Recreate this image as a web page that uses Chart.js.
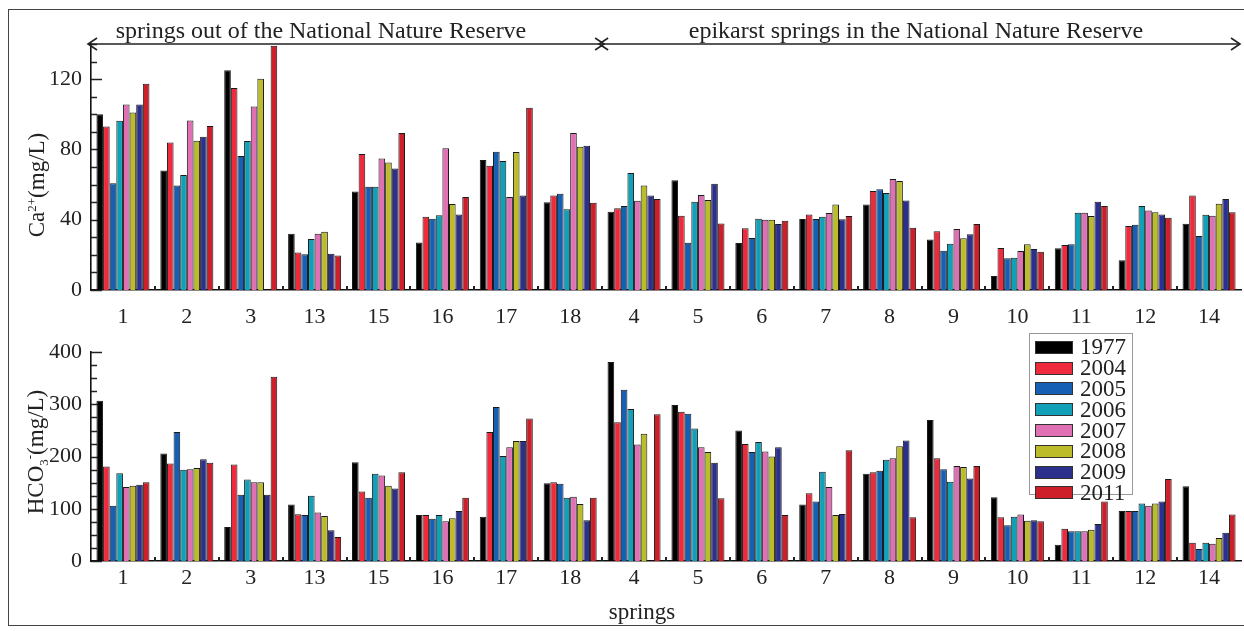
<!DOCTYPE html>
<html><head><meta charset="utf-8">
<script src="https://cdn.jsdelivr.net/npm/chart.js@4/dist/chart.umd.min.js"></script>
<style>
html,body{margin:0;padding:0;background:#fff;}
#root{position:relative;width:1244px;height:631px;overflow:hidden;font-family:"Liberation Serif","DejaVu Serif",serif;color:#222;}
.frame{position:absolute;left:8px;top:9px;width:1240px;height:615px;border:1px solid #444;border-right:none;}
.wrap{position:absolute;left:0;width:1244px;}
.hdr{position:absolute;font-size:24px;white-space:nowrap;transform:translate(-50%,-50%);}
.ytitle{position:absolute;font-size:23px;white-space:nowrap;transform:translate(-50%,-50%) rotate(-90deg);}
.xtitle{position:absolute;font-size:23px;transform:translate(-50%,-50%);}
#legend{position:absolute;left:1029px;top:333px;width:104px;height:162px;border:1px solid #999;background:#fff;box-sizing:border-box;padding-top:3px;}
.row{height:20.8px;display:flex;align-items:center;}
.sw{width:38px;height:13px;margin-left:5px;border:1px solid #333;box-sizing:border-box;}
.lt{font-size:23px;margin-left:7px;line-height:20px;}
sup,sub{font-size:13px;}
</style>
</head><body>
<div id="root">
  <div class="frame"></div>
  <div class="wrap" style="top:20px;height:310px;"><canvas id="caChart"></canvas></div>
  <div class="wrap" style="top:330px;height:301px;"><canvas id="hcoChart"></canvas></div>
  <div class="hdr" style="left:321px;top:30px;">springs out of the National Nature Reserve</div>
  <div class="hdr" style="left:916px;top:30px;">epikarst springs in the National Nature Reserve</div>
  <div class="ytitle" style="left:37px;top:185px;">Ca<sup>2+</sup>(mg/L)</div>
  <div class="ytitle" style="left:37px;top:452px;">HCO<sub>3</sub><sup>-</sup>(mg/L)</div>
  <div class="xtitle" style="left:642px;top:612px;">springs</div>
  <div id="legend"></div>
</div>
<script>
const springs = ['1','2','3','13','15','16','17','18','4','5','6','7','8','9','10','11','12','14'];
const years = ['1977','2004','2005','2006','2007','2008','2009','2011'];

const ca1977 = [100, 68, 125, 32, 56, 27, 74, 50, 44.5, 62.5, 26.7, 40.4, 48.7, 28.8, 8, 23.7, 17, 37.7];
const ca2004 = [93, 84, 115, 21.4, 77.4, 41.7, 70.7, 53.8, 46.5, 42.3, 35.1, 43, 56.3, 33.4, 23.9, 25.6, 36.4, 53.8];
const ca2005 = [60.7, 59.5, 76.2, 20.3, 58.8, 40.6, 78.7, 54.8, 47.8, 26.9, 29.6, 40.4, 57.4, 22.4, 18, 26, 37.1, 30.7];
const ca2006 = [96.3, 65.4, 84.8, 29, 58.8, 42.5, 73.4, 45.9, 66.6, 50.2, 40.6, 41.7, 55.2, 26.3, 18.4, 44, 47.8, 42.8];
const ca2007 = [105.6, 96.5, 104.5, 32, 74.9, 80.6, 52.9, 89.3, 50.8, 54, 40, 43.8, 63.1, 34.7, 22.2, 44, 45.3, 42.3];
const ca2008 = [101, 85, 120.2, 33.2, 72.6, 48.9, 78.5, 81.5, 59.5, 51.2, 40, 48.7, 62, 29.4, 26, 42.1, 44.2, 49.1];
const ca2009 = [105.6, 87.2, null, 20.7, 69.2, 43, 53.8, 82.1, 53.8, 60.5, 37.5, 40.2, 51, 31.7, 23.3, 50.2, 43, 51.8];
const ca2011 = [117.4, 93.3, 139, 19.7, 89.3, 52.9, 103.7, 49.7, 51.8, 37.9, 39.4, 42.1, 35.4, 37.5, 21.8, 47.8, 41.1, 44.2];

const hco1977 = [307, 206, 65, 108, 189, 88, 85, 149, 381, 299, 250, 108, 167, 270, 122, 31, 96, 143];
const hco2004 = [181, 187, 185, 89.5, 133, 88, 247, 151, 266, 286, 224, 130, 170, 197, 84, 62, 96, 35];
const hco2005 = [106, 247, 127, 88, 121, 81, 295, 148, 328, 282, 209, 114, 173, 176, 68.5, 57, 96, 23];
const hco2006 = [168, 175, 156, 125, 167, 88, 201, 121, 291, 254, 228, 171, 194, 152, 85, 57, 110, 35];
const hco2007 = [142, 176, 151, 93, 164, 76, 218, 123, 223, 218, 210, 142, 197, 182, 89, 57, 106, 33];
const hco2008 = [144, 178, 151, 86, 144, 82, 230, 109, 244, 209, 200, 88, 220, 180, 77, 60, 110, 44];
const hco2009 = [146, 195, 127, 59, 139, 96, 230, 78, null, 188, 218, 90, 231, 158, 78, 71, 114, 54];
const hco2011 = [151, 188, 353, 46, 170, 121, 273, 121, 281, 120, 88, 212, 84, 182, 76, 114, 157, 89];

const caTicks = [0, 40, 80, 120];
const hcoTicks = [0, 100, 200, 300, 400];

const colors = ['#000000','#ee2a3c','#1560b4','#12a0b8','#e070b4','#bcbc2a','#2c2f8c','#cc1f2a'];
const caSeries = [ca1977, ca2004, ca2005, ca2006, ca2007, ca2008, ca2009, ca2011];
const hcoSeries = [hco1977, hco2004, hco2005, hco2006, hco2007, hco2008, hco2009, hco2011];

const FONT = {family:'"Liberation Serif","DejaVu Serif",serif', size:22};

function decoPlugin(minorStep, majorTicks, maxV){
  return {
    id:'deco',
    beforeDatasetsDraw(chart){
      const ctx = chart.ctx, y = chart.scales.y, a = chart.chartArea;
      ctx.save();
      ctx.strokeStyle = '#222'; ctx.lineWidth = 1.5;
      for(let v=0; v<=maxV+1e-6; v+=minorStep){
        const py = Math.round(y.getPixelForValue(v))+0.5;
        const len = majorTicks.includes(v) ? 11 : 6;
        ctx.beginPath(); ctx.moveTo(a.left, py); ctx.lineTo(a.left+len, py); ctx.stroke();
      }
      ctx.restore();
    },
    afterDatasetsDraw(chart){
      const ctx = chart.ctx, x = chart.scales.x, a = chart.chartArea;
      ctx.save(); ctx.fillStyle = '#222';
      for(let i=1;i<springs.length;i++){
        const px = x.getPixelForValue(i-0.5);
        ctx.fillRect(Math.round(px)-1, a.bottom-4, 2, 4);
      }
      ctx.restore();
    }
  };
}

const arrowPlugin = {
  id:'arrows',
  afterDraw(chart){
    const ctx = chart.ctx, x = chart.scales.x, a = chart.chartArea;
    const yy = a.top;
    const left = a.left-3, right = a.right-1, mid = x.getPixelForValue(7.5);
    ctx.save(); ctx.strokeStyle = '#222'; ctx.lineWidth = 1.6;
    function head(px, dir){
      ctx.beginPath(); ctx.moveTo(px - dir*9, yy-6); ctx.lineTo(px, yy); ctx.lineTo(px - dir*9, yy+6); ctx.stroke();
    }
    ctx.beginPath(); ctx.moveTo(left, yy); ctx.lineTo(right, yy); ctx.stroke();
    head(left, -1); head(mid+2, 1); head(mid-3, -1); head(right, 1);
    ctx.restore();
  }
};

function makeChart(id, series, maxV, step, majorTicks, minorStep, padTop, xHeight, xPad, extraPlugins){
  return new Chart(document.getElementById(id), {
    type:'bar',
    data:{
      labels:springs,
      datasets: years.map((yr,i)=>({
        label:yr, data:series[i], backgroundColor:colors[i],
        borderColor:'#1a1a1a', borderWidth:1, borderSkipped:'start',
        categoryPercentage:0.83, barPercentage:1.0
      }))
    },
    options:{
      animation:false, responsive:true, maintainAspectRatio:false,
      layout:{padding:{top:padTop, right:3, left:0, bottom:0}},
      plugins:{legend:{display:false}, tooltip:{enabled:false}},
      scales:{
        x:{
          grid:{display:false, drawTicks:false},
          border:{display:true, color:'#111', width:1.6},
          ticks:{font:FONT, color:'#222', padding:xPad, maxRotation:0, autoSkip:false},
          afterFit(s){ s.height = xHeight; }
        },
        y:{
          min:0, max:maxV,
          grid:{display:false, drawTicks:false},
          border:{display:true, color:'#111', width:1.6},
          ticks:{font:FONT, color:'#222', padding:9, stepSize:step},
          afterBuildTicks(s){ s.ticks = majorTicks.map(v=>({value:v})); },
          afterFit(s){ s.width = 91; }
        }
      }
    },
    plugins:[decoPlugin(minorStep, majorTicks, maxV)].concat(extraPlugins||[])
  });
}

makeChart('caChart', caSeries, 140, 40, caTicks, 10, 24, 40, 14, [arrowPlugin]);
makeChart('hcoChart', hcoSeries, 400, 100, hcoTicks, 25, 15, 70, 4, []);

const leg = document.getElementById('legend');
years.forEach((yr,i)=>{
  const r = document.createElement('div'); r.className='row';
  const s = document.createElement('div'); s.className='sw'; s.style.background = colors[i];
  const t = document.createElement('span'); t.className='lt'; t.textContent = yr;
  r.appendChild(s); r.appendChild(t); leg.appendChild(r);
});
</script>
</body></html>
